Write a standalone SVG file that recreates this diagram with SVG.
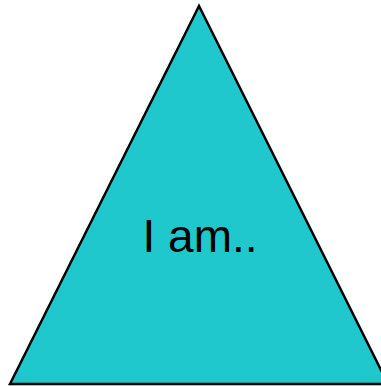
<svg xmlns="http://www.w3.org/2000/svg" width="381" height="386" viewBox="0 0 381 386">
<style>
.shape{fill:#1EC8CC;stroke:#000;stroke-width:2.5;stroke-linejoin:miter}
.lbl{font-family:"Liberation Sans",Arial,sans-serif;font-size:46px;fill:#000;text-anchor:middle}
</style>
<rect width="381" height="386" fill="#fff"/>
<g id="triangle">
<polygon class="shape" points="199,6 10,384 388,384"/>
<text class="lbl" x="200" y="252">I am..</text>
</g>
<g id="connectors"/>
</svg>
